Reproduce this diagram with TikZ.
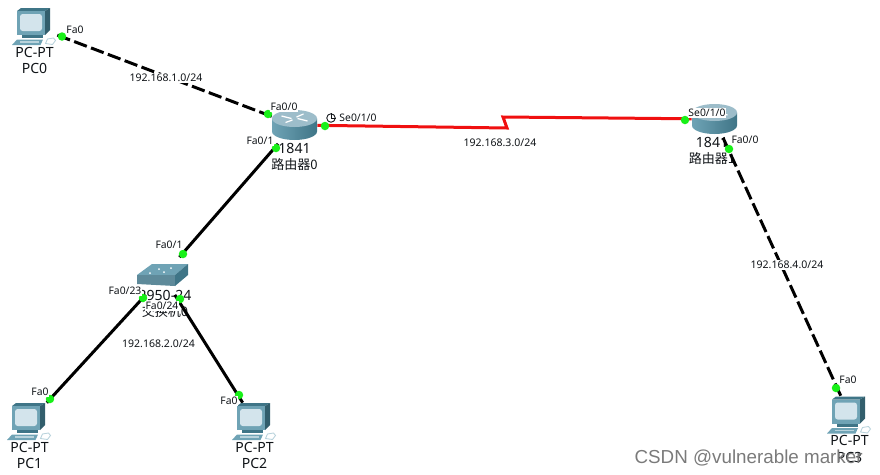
\documentclass[tikz,border=0pt]{standalone}
\usepackage{fontspec}
\setmainfont{Noto Sans}
\newfontfamily\cjk[Scale=0.93]{Noto Sans CJK SC}
\newfontfamily\markfont{Liberation Sans}
\usepackage{xcolor}
\usepackage{tikz}
\usetikzlibrary{positioning}
\definecolor{ink}{HTML}{101418}
\definecolor{linkred}{HTML}{F01010}
\definecolor{portgreen}{HTML}{18F018}
\definecolor{tealdark}{HTML}{3F7587}
\definecolor{tealmid}{HTML}{6FA3B5}
\definecolor{teallight}{HTML}{B9D3DC}
\definecolor{routertop}{HTML}{9DBDCA}
\definecolor{screenblue}{HTML}{D3E4EC}
\definecolor{markgray}{HTML}{7A7A7A}

\begin{document}
\begin{tikzpicture}[
      x=0.02cm, y=-0.02cm,
      device/.style={inner sep=0pt, minimum width=0.9cm, minimum height=0.74cm},
      devlabel/.style={inner sep=0pt, align=center, text=ink, font=\fontsize{8}{9.2}\selectfont},
      portdot/.style={circle, fill=portgreen, inner sep=0pt, minimum size=0.17cm},
      portlabel/.style={fill=white, inner sep=0.4pt, text=ink, font=\fontsize{5.9}{6}\selectfont},
      netlabel/.style={fill=white, inner sep=0.8pt, text=ink, font=\fontsize{6}{6}\selectfont},
      wire/.style={draw=black, line width=0.06cm},
      dashwire/.style={wire, dash pattern=on 0.27cm off 0.09cm},
      serial/.style={draw=linkred, line width=0.06cm},
      pics/pcicon/.style={code={
        \fill[tealdark] (-17.5,-15.5) -- (-13.5,-18.5) -- (15.5,-18.5) -- (10.5,-15.5) -- cycle;
        \fill[tealdark!80!black] (10.5,-15.5) -- (15.5,-18.5) -- (15.5,3.5) -- (10.5,8.5) -- cycle;
        \fill[tealmid] (-17.5,-15.5) rectangle (10.5,8.5);
        \fill[screenblue, rounded corners=1.5pt] (-14.5,-12.5) rectangle (7.5,4.5);
        \fill[tealdark] (-12.5,8.5) rectangle (8,11.5);
        \fill[tealmid] (-22.5,18.5) -- (-17.5,13) -- (8.5,13) -- (6,18.5) -- cycle;
        \fill[teallight] (-15,14.5) rectangle (4,16);
        \draw[teallight, line width=0.5pt] (11,17) -- (13,12.5) -- (19,11.5) -- (21,14) -- (18,18) -- cycle;
      }},
      pics/routericon/.style={code={
        \shade[left color=tealmid, middle color=screenblue, right color=tealdark]
          (-22.5,-6.5) -- (-22.5,6.5) arc[start angle=180, end angle=0, x radius=22.5, y radius=8.5] -- (22.5,-6.5) -- cycle;
        \fill[routertop] (0,-6.5) ellipse [x radius=22.5, y radius=8.5];
        \draw[white, line width=0.7pt] (-13,-9) -- (-3,-6.5) (13,-4) -- (3,-6.5) (-9,-2.5) -- (-2,-5) (9,-11) -- (2,-8);
      }},
      pics/switchicon/.style={code={
        \fill[tealmid] (-26,-1) -- (-11,-12) -- (25,-12) -- (12,-1) -- cycle;
        \fill[tealmid!85!black] (-26,-1) -- (12,-1) -- (12,10) -- (-26,8) -- cycle;
        \fill[tealdark] (12,-1) -- (25,-12) -- (25,-1) -- (12,10) -- cycle;
        \fill[white] (-13,-3) circle (1) (-4,-7) circle (1) (8,-8) circle (1) (1,-4) circle (1);
      }}
    ]
    \useasboundingbox (0,0) rectangle (880,474);

    \node[device] (pc0) at (34.5,26.5) {};
    \node[device] (pc1) at (29.5,421.5) {};
    \node[device] (pc2) at (254.5,421.5) {};
    \node[device] (pc3) at (849.5,415) {};
    \node[device] (router0) at (294.5,125) {};
    \node[device] (router1) at (714.5,119) {};
    \node[device] (switch0) at (163,276) {};

    \node[devlabel, below=0.03cm of pc0] (pc0name) {PC-PT\\PC0};
    \node[devlabel, below=0.03cm of pc1] (pc1name) {PC-PT\\PC1};
    \node[devlabel, below=0.03cm of pc2] (pc2name) {PC-PT\\PC2};
    \node[devlabel, below=0.03cm of pc3] (pc3name) {PC-PT\\PC3};
    \node[devlabel] (router0name) at (294.5,157) {1841\\{\cjk 路由器0}};
    \node[devlabel] (router1name) at (712,151) {1841\\{\cjk 路由器1}};
    \node[devlabel] (switch0name) at (165,304) {2950-24\\{\cjk 交换机0}};

    \coordinate (kink0) at (507,128);
    \coordinate (kink1) at (503,117);

    \draw[dashwire] (pc0) -- (router0);
    \draw[wire] (router0) -- (switch0);
    \draw[wire] (switch0) -- (pc1);
    \draw[wire] (switch0) -- (pc2);
    \draw[dashwire] (router1) -- (pc3);
    \draw[serial] (router0) -- (kink0) -- (kink1) -- (router1);

    \pic at (pc0) {pcicon};
    \pic at (pc1) {pcicon};
    \pic at (pc2) {pcicon};
    \pic at (pc3) {pcicon};
    \pic at (router0) {routericon};
    \pic at (router1) {routericon};
    \pic at (switch0) {switchicon};

    \node[netlabel] (net1) at (166,78) {192.168.1.0/24};
    \node[netlabel] (net2) at (158.5,344) {192.168.2.0/24};
    \node[netlabel] (net3) at (500,143) {192.168.3.0/24};
    \node[netlabel] (net4) at (787,265) {192.168.4.0/24};

    \node[portdot] (dot0) at (62,36.5) {};
    \node[portdot] (dot1) at (268,114) {};
    \node[portdot] (dot2) at (276,148) {};
    \node[portdot] (dot3) at (325,126) {};
    \node[portdot] (dot4) at (685,120) {};
    \node[portdot] (dot5) at (729,149) {};
    \node[portdot] (dot6) at (183,254) {};
    \node[portdot] (dot7) at (143,298) {};
    \node[portdot] (dot8) at (180,299) {};
    \node[portdot] (dot9) at (50,399) {};
    \node[portdot] (dot10) at (239,395) {};
    \node[portdot] (dot11) at (836,388) {};

    \node[portlabel] at (75,30) {Fa0};
    \node[portlabel] at (284,107) {Fa0/0};
    \node[portlabel] at (260,141) {Fa0/1};
    \node[portlabel] at (358,118) {Se0/1/0};
    \node[portlabel] at (707,113) {Se0/1/0};
    \node[portlabel] at (745,140) {Fa0/0};
    \node[portlabel] at (169,245) {Fa0/1};
    \node[portlabel] at (125,291) {Fa0/23};
    \node[portlabel] at (162,306) {Fa0/24};
    \node[portlabel] at (40,392) {Fa0};
    \node[portlabel] at (229,401) {Fa0};
    \node[portlabel] at (848,380) {Fa0};

    \node[circle, draw=ink, fill=white, line width=0.5pt, inner sep=0pt, minimum size=0.17cm] (clock) at (331,118) {};
    \draw[ink, line width=0.4pt] (clock.north) -- (clock.center) -- (clock.east);

    \node[anchor=east, inner sep=0pt, text=markgray, font=\fontsize{10.7}{12}\markfont] (mark) at (863,458) {CSDN @vulnerable marker};
  \end{tikzpicture}
\end{document}
